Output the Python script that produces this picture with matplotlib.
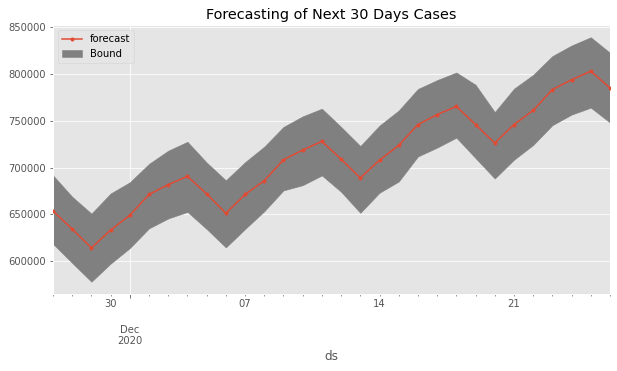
import matplotlib
matplotlib.use("Agg")
import matplotlib.pyplot as plt
import matplotlib.dates as mdates
import numpy as np
import pandas as pd

plt.style.use("ggplot")

start_date = "2020-11-27"
n_days = 30

forecast = [653600, 634200, 614100, 633100, 649000, 671200, 681800, 690600, 671900, 651100,
            671200, 686000, 708300, 718800, 728000, 709000, 688900, 707900, 723800, 746000,
            756600, 765400, 746000, 726200, 746000, 761100, 783400, 793900, 803100, 785100]
upper = [691700, 668800, 650800, 672300, 684300, 704000, 718100, 727600, 705400, 686400,
         705800, 722400, 743500, 754800, 763000, 743500, 723100, 744900, 761100, 784100,
         793600, 801700, 788600, 759400, 784400, 799200, 819300, 830600, 839400, 822800]
lower = [618300, 597900, 577800, 597200, 613800, 634900, 645500, 652500, 634200, 614500,
         634200, 653200, 675500, 681100, 691500, 674000, 651500, 673000, 685000, 711800,
         721300, 731900, 710000, 688200, 708300, 724100, 745300, 756600, 764000, 748100]

ds = pd.date_range(start_date, periods=n_days, freq="D")

dpi = 72
fig = plt.figure(figsize=(617 / dpi, 371 / dpi), dpi=dpi)
ax = fig.add_axes([53 / 617, 1 - 294 / 371, (610 - 53) / 617, (294 - 25) / 371])

ax.plot(ds, forecast, marker=".", color="#E24A33", label="forecast", zorder=3)
ax.fill_between(ds, lower, upper, color="grey", alpha=1.0, label="Bound", zorder=2)

ax.set_xlim(ds[0], ds[-1])
ax.margins(x=0)

ax.xaxis.set_major_locator(mdates.MonthLocator())
ax.xaxis.set_major_formatter(mdates.DateFormatter("\n\n%b\n%Y"))
ax.xaxis.set_minor_locator(mdates.DayLocator())


def minor_fmt(x, pos):
    d = mdates.num2date(x)
    return d.strftime("%d") if d.weekday() == 0 else ""


ax.xaxis.set_minor_formatter(plt.FuncFormatter(minor_fmt))
ax.tick_params(axis="x", which="minor", length=2, labelsize=10, labelcolor="#555555")
ax.tick_params(axis="x", which="major", length=4, labelsize=10)
ax.tick_params(axis="y", labelsize=10)
ax.grid(True, which="major")
ax.grid(False, which="minor")

ax.yaxis.set_major_formatter(matplotlib.ticker.StrMethodFormatter("{x:.0f}"))

ax.set_title("Forecasting of Next 30 Days Cases", fontsize=14.4)
ax.set_xlabel("ds", fontsize=12)
ax.legend(loc="upper left", fontsize=10)

fig.savefig("out.png", dpi=dpi)
